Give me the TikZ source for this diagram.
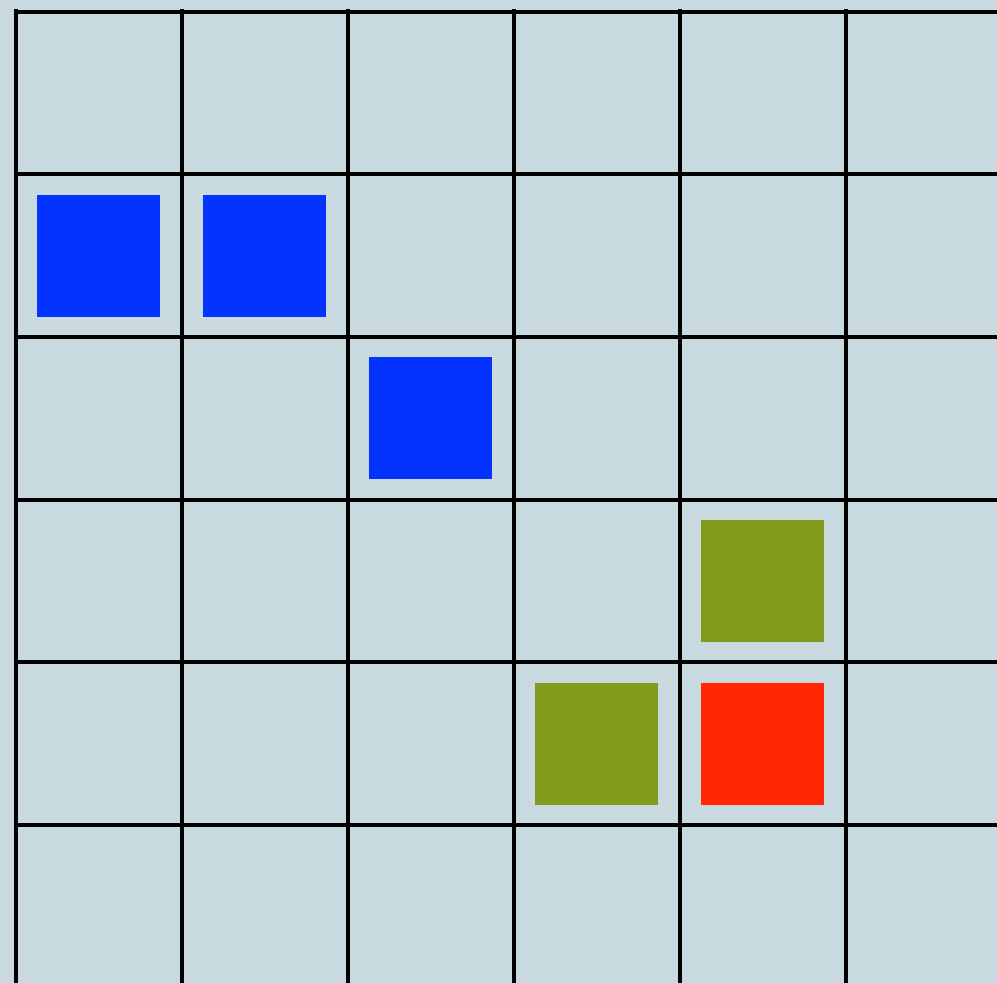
\documentclass[tikz,border=0pt]{standalone}
\usepackage{tikz}
\definecolor{papier}{RGB}{201,217,224}
\definecolor{blaustein}{RGB}{4,51,255}
\definecolor{olivstein}{RGB}{129,154,27}
\definecolor{rotstein}{RGB}{255,38,0}

\begin{document}
\begin{tikzpicture}[x=41.5mm, y=40.675mm,
        stein/.style={minimum width=30.75mm, minimum height=30.5mm, inner sep=0pt, outer sep=0pt},
        blau/.style={stein, fill=blaustein},
        oliv/.style={stein, fill=olivstein},
        rot/.style={stein, fill=rotstein}]
        %Bildbereich und Hintergrund
        \useasboundingbox (-0.0934,-5.971) rectangle (5.9127,0.0707);
        \fill[papier] (-0.0934,-5.971) rectangle (5.9127,0.0707);
        %Raster zeichnen
        \begin{scope}
        \clip (-0.0934,-5.971) rectangle (5.9127,0.0707);
        \draw[line width=1mm, line cap=rect] (0,-6.3) grid[xstep=1, ystep=1] (6.3,0);
        \end{scope}
        %Steine
        \node[blau] (b1) at (0.5,-1.5) {};
        \node[blau] (b2) at (1.5,-1.5) {};
        \node[blau] (b3) at (2.5,-2.5) {};
        \node[oliv] (g1) at (4.5,-3.5) {};
        \node[oliv] (g2) at (3.5,-4.5) {};
        \node[rot] (r1) at (4.5,-4.5) {};
    \end{tikzpicture}
\end{document}
